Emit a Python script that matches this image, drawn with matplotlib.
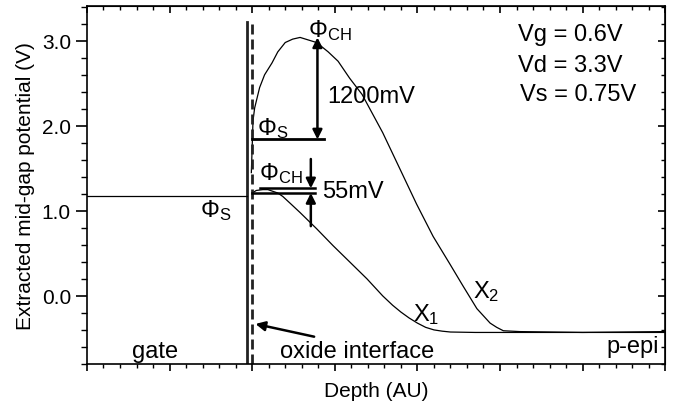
import numpy as np
import matplotlib
matplotlib.use('Agg')
import matplotlib.pyplot as plt

plt.rcParams['font.family'] = ['Liberation Sans', 'DejaVu Sans']
plt.rcParams['mathtext.fontset'] = 'custom'
plt.rcParams['mathtext.rm'] = 'Liberation Sans'
plt.rcParams['mathtext.it'] = 'Liberation Sans'

# mid-gap potential profiles (depth in AU, potential in V)
x1_depth = [2.00, 2.05, 2.13, 2.19, 2.25, 2.31, 2.37, 2.47, 2.58, 2.78, 2.98,
            3.18, 3.39, 3.58, 3.70, 3.80, 3.90, 4.00, 4.10, 4.20, 4.30, 4.40,
            4.70, 5.20, 6.00, 7.00]
x1_pot = [1.21, 1.24, 1.25, 1.25, 1.23, 1.21, 1.17, 1.08, 0.98, 0.79, 0.59,
          0.40, 0.20, 0.00, -0.11, -0.19, -0.26, -0.32, -0.37, -0.40, -0.415,
          -0.425, -0.43, -0.43, -0.43, -0.43]

x2_depth = [1.99, 2.00, 2.01, 2.03, 2.09, 2.15, 2.24, 2.31, 2.40, 2.49, 2.58,
            2.68, 2.78, 2.92, 3.04, 3.18, 3.33, 3.58, 3.79, 3.99, 4.19,
            4.39, 4.55, 4.72, 4.88, 4.96, 5.04, 5.24, 6.00, 7.00]
x2_pot = [1.45, 1.75, 2.06, 2.21, 2.45, 2.60, 2.74, 2.87, 2.98, 3.02, 3.04,
          3.01, 2.98, 2.87, 2.76, 2.56, 2.37, 1.92, 1.49, 1.08, 0.70,
          0.38, 0.12, -0.15, -0.32, -0.37, -0.41, -0.42, -0.43, -0.42]

gate_edge = 1.94
oxide_edge = 2.00
phi_s_gate = 1.18
phi_s_hi, phi_ch_hi = 1.84, 3.04
phi_s_lo, phi_ch_lo = 1.21, 1.265

fig = plt.figure(figsize=(6.74, 4.10), dpi=100)
ax = fig.add_axes([0.129, 0.110, 0.858, 0.873])

ax.plot(x1_depth, x1_pot, color='black', lw=0.9)
ax.plot(x2_depth, x2_pot, color='black', lw=0.9)

# gate / oxide boundaries
ax.plot([gate_edge, gate_edge], [-0.8, 3.22], color='#222222', lw=2.0)
ax.plot([oxide_edge, oxide_edge], [-0.8, 3.22], color='#222222', lw=2.0,
        linestyle=(0, (3.6, 1.8)))
ax.plot([0, gate_edge], [phi_s_gate, phi_s_gate], color='black', lw=0.9)

# surface / channel potential markers
ax.plot([oxide_edge, 2.87], [phi_s_hi, phi_s_hi], color='black', lw=2)
ax.plot([2.09, 2.76], [phi_ch_lo, phi_ch_lo], color='black', lw=1.8)
ax.plot([oxide_edge, 2.76], [phi_s_lo, phi_s_lo], color='black', lw=1.8)

arrow_kw = dict(color='black', lw=1.8, shrinkA=0, shrinkB=0,
                mutation_scale=14)
ax.annotate('', xy=(2.79, phi_ch_hi), xytext=(2.79, phi_s_hi),
            arrowprops=dict(arrowstyle='<|-|>', **arrow_kw))
ax.annotate('', xy=(2.71, phi_ch_lo), xytext=(2.71, 1.61),
            arrowprops=dict(arrowstyle='-|>', **arrow_kw))
ax.annotate('', xy=(2.71, phi_s_lo), xytext=(2.71, 0.82),
            arrowprops=dict(arrowstyle='-|>', **arrow_kw))
ax.annotate('', xy=(2.04, -0.33), xytext=(2.75, -0.48),
            arrowprops=dict(arrowstyle='-|>', **arrow_kw))

fs = 17
ax.text(2.67, 3.05, r'$\Phi_{\rm CH}$', fontsize=fs, va='baseline')
ax.text(2.91, 2.28, '1200mV', fontsize=fs, va='baseline')
ax.text(2.06, 1.90, r'$\Phi_{\rm S}$', fontsize=fs, va='baseline')
ax.text(2.08, 1.37, r'$\Phi_{\rm CH}$', fontsize=fs, va='baseline')
ax.text(2.85, 1.16, '55mV', fontsize=fs, va='baseline')
ax.text(1.37, 0.94, r'$\Phi_{\rm S}$', fontsize=fs, va='baseline')
ax.text(3.95, -0.29, r'X$_1$', fontsize=fs, va='baseline')
ax.text(4.67, -0.01, r'X$_2$', fontsize=fs, va='baseline')
ax.text(5.22, 3.01, 'Vg = 0.6V', fontsize=fs, va='baseline')
ax.text(5.22, 2.65, 'Vd = 3.3V', fontsize=fs, va='baseline')
ax.text(5.24, 2.30, 'Vs = 0.75V', fontsize=fs, va='baseline')
ax.text(0.83, -0.72, 'gate', fontsize=fs, va='baseline', ha='center')
ax.text(3.27, -0.72, 'oxide interface', fontsize=fs, va='baseline', ha='center')
ax.text(6.60, -0.66, 'p-epi', fontsize=fs, va='baseline', ha='center')

ax.set_xlim(0, 7)
ax.set_ylim(-0.80, 3.41)
ax.set_yticks([0.0, 1.0, 2.0, 3.0])
ax.set_yticklabels(['0.0', '1.0', '2.0', '3.0'])
ax.set_yticks(np.arange(-0.8, 3.41, 0.2), minor=True)
ax.set_xticks(np.arange(0, 8, 1))
ax.set_xticks(np.arange(0, 7.01, 0.2), minor=True)
ax.set_xticklabels([])
ax.tick_params(axis='y', which='major', length=8, width=1.2, labelsize=15,
               direction='out')
ax.tick_params(axis='y', which='minor', length=4, width=1.0, direction='out')
ax.tick_params(axis='x', which='major', length=5, width=1.2, direction='out')
ax.tick_params(axis='x', which='minor', length=3, width=1.0, direction='out')

# mirrored ticks pointing inward on top and right
top = ax.secondary_xaxis('top')
top.set_xticks(np.arange(0, 8, 1))
top.set_xticks(np.arange(0, 7.01, 0.2), minor=True)
top.set_xticklabels([])
top.tick_params(which='major', direction='in', length=5, width=1.2)
top.tick_params(which='minor', direction='in', length=3, width=1.0)
right = ax.secondary_yaxis('right')
right.set_yticks([0.0, 1.0, 2.0, 3.0])
right.set_yticks(np.arange(-0.8, 3.41, 0.2), minor=True)
right.set_yticklabels([])
right.tick_params(which='major', direction='in', length=5, width=1.2)
right.tick_params(which='minor', direction='in', length=3, width=1.0)

for sp in ax.spines.values():
    sp.set_linewidth(1.2)

ax.set_xlabel('Depth (AU)', fontsize=15, labelpad=4)
ax.set_ylabel('Extracted mid-gap potential (V)', fontsize=15, labelpad=5)

fig.savefig('out.png', dpi=100)
